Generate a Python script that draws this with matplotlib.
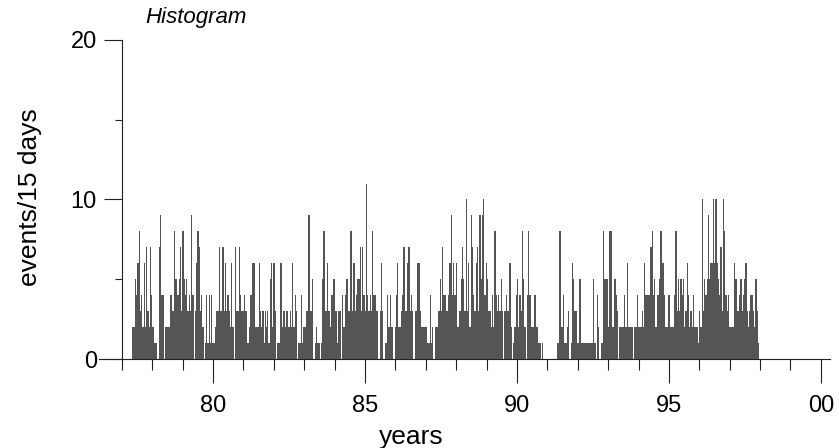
import numpy as np
import matplotlib.pyplot as plt

plt.rcParams['font.family'] = ['Liberation Sans', 'DejaVu Sans']

# eventos por janela de 15 dias (primeira janela em ~77.35)
ano_inicio = 77.35
dias_janela = 15

counts_77_79 = [2, 2, 5, 4, 6, 8, 3, 4, 2, 6, 2, 7, 3, 2, 7, 4, 2, 1, 1, 1,
                0, 7, 9, 4, 4, 0, 2, 2, 2, 2, 4, 4, 3, 8, 5, 5, 4, 5, 7, 3,
                8, 5, 4, 5]
counts_79_81 = [3, 4, 3, 9, 4, 0, 3, 6, 8, 7, 3, 4, 2, 0, 1, 4, 1, 4, 1, 4,
                1, 1, 2, 3, 3, 7, 3, 3, 7, 3, 6, 3, 4, 3, 2, 6, 2, 0, 7, 3,
                3, 7, 4, 3, 3, 4, 3, 3]
counts_81_83 = [1, 2, 4, 4, 6, 6, 2, 2, 2, 6, 3, 2, 3, 1, 3, 2, 3, 1, 5, 6,
                2, 6, 3, 0, 1, 1, 6, 6, 2, 3, 2, 3, 3, 2, 3, 2, 6, 2, 4, 3,
                0, 1, 1, 4, 1, 2, 2, 3]
counts_83_85 = [3, 9, 3, 3, 5, 0, 1, 2, 1, 1, 0, 1, 5, 8, 3, 3, 6, 3, 2, 4,
                4, 5, 3, 3, 1, 3, 3, 0, 4, 2, 4, 5, 5, 3, 8, 8, 3, 6, 3, 4,
                5, 5, 7, 3, 7, 4, 3, 11]
counts_85_87 = [4, 3, 4, 3, 8, 4, 4, 3, 3, 0, 3, 6, 3, 0, 1, 1, 4, 2, 4, 2,
                2, 0, 2, 4, 6, 2, 2, 3, 4, 7, 3, 3, 6, 7, 3, 4, 3, 0, 3, 3,
                6, 6, 3, 2, 2, 2, 2, 2]
counts_87_89 = [1, 1, 4, 1, 2, 0, 2, 2, 2, 3, 5, 3, 7, 4, 4, 3, 3, 4, 6, 9,
                4, 6, 4, 6, 2, 2, 3, 5, 7, 5, 3, 10, 3, 6, 2, 9, 7, 4, 3, 6,
                7, 3, 9, 5, 9, 10, 4, 6]
counts_89_91 = [5, 3, 3, 2, 4, 2, 8, 4, 3, 4, 3, 5, 3, 0, 3, 4, 3, 3, 6, 2,
                0, 1, 2, 4, 5, 2, 4, 3, 8, 5, 2, 0, 4, 8, 4, 2, 2, 2, 4, 2,
                2, 1, 1, 0, 1, 0, 0, 0, 0, 0, 0, 0, 0, 0, 0, 0]
counts_91_93 = [1, 1, 8, 2, 2, 4, 1, 1, 2, 3, 0, 1, 6, 5, 3, 3, 1, 1, 5, 1,
                1, 1, 1, 1, 1, 1, 1, 1, 1, 5, 1, 0, 4, 2, 0, 1, 1, 8, 5, 5,
                5]
counts_93_95 = [2, 8, 8, 2, 2, 5, 4, 3, 0, 2, 2, 2, 2, 4, 2, 6, 2, 2, 2, 2,
                0, 2, 2, 4, 2, 2, 2, 3, 2, 6, 4, 4, 4, 4, 7, 8, 4, 5, 2, 4,
                4, 5, 8, 6, 6, 4, 2, 2]
counts_95_97 = [4, 4, 2, 2, 2, 4, 8, 3, 5, 3, 5, 4, 5, 2, 3, 6, 4, 2, 3, 2,
                4, 2, 2, 2, 1, 3, 2, 10, 3, 5, 4, 5, 9, 5, 6, 6, 10, 6, 10, 6,
                5, 4, 7, 3, 10, 8, 4, 3]
counts_97_98 = [4, 2, 2, 2, 2, 6, 5, 3, 3, 4, 5, 3, 4, 5, 6, 3, 2, 3, 4, 4,
                3, 2, 5, 3, 1]

ticks_anos = [80, 85, 90, 95, 100]
rotulos_anos = ['80', '85', '90', '95', '00']

counts = np.array(counts_77_79 + counts_79_81 + counts_81_83 + counts_83_85 +
                  counts_85_87 + counts_87_89 + counts_89_91 + counts_91_93 +
                  counts_93_95 + counts_95_97 + counts_97_98)
largura = dias_janela / 365.25
bordas = ano_inicio + np.arange(len(counts) + 1) * largura

fig = plt.figure(figsize=(8.39, 4.48), dpi=100)
ax = fig.add_axes([99 / 839, 1 - 359 / 448, 731 / 839, 319 / 448])

ax.stairs(counts, bordas, fill=True, color='#555555', linewidth=0)

ax.set_xlim(76.25, 100.3)
ax.set_ylim(0, 20)

# eixos no estilo do original
ax.spines['top'].set_visible(False)
ax.spines['right'].set_visible(False)
ax.spines['left'].set_position(('data', 77))
ax.spines['left'].set_bounds(0, 20)
for s in ['left', 'bottom']:
    ax.spines[s].set_linewidth(0.8)
    ax.spines[s].set_color('#222222')

ax.set_xticks(ticks_anos)
ax.set_xticklabels(rotulos_anos)
ax.set_xticks(np.arange(77, 100), minor=True)
ax.set_yticks([0, 10, 20])
ax.set_yticks([5, 15], minor=True)

ax.tick_params(axis='x', which='major', direction='out', length=17, width=0.8,
               pad=9, labelsize=17, color='#222222')
ax.tick_params(axis='x', which='minor', direction='out', length=8, width=0.8,
               color='#222222')
ax.tick_params(axis='y', which='major', direction='out', length=13, width=0.8,
               pad=5, labelsize=17, color='#222222')
ax.tick_params(axis='y', which='minor', direction='out', length=5, width=0.8,
               color='#222222')

fig.text(411 / 839, 1 - 437 / 448, 'years', ha='center', va='center', fontsize=19)
fig.text(30 / 839, 1 - 197 / 448, 'events/15 days', ha='center', va='center',
         rotation=90, fontsize=19)
fig.text(145 / 839, 1 - 17 / 448, 'Histogram', ha='left', va='center',
         fontsize=16, style='italic')

fig.savefig('out.png', dpi=100)
